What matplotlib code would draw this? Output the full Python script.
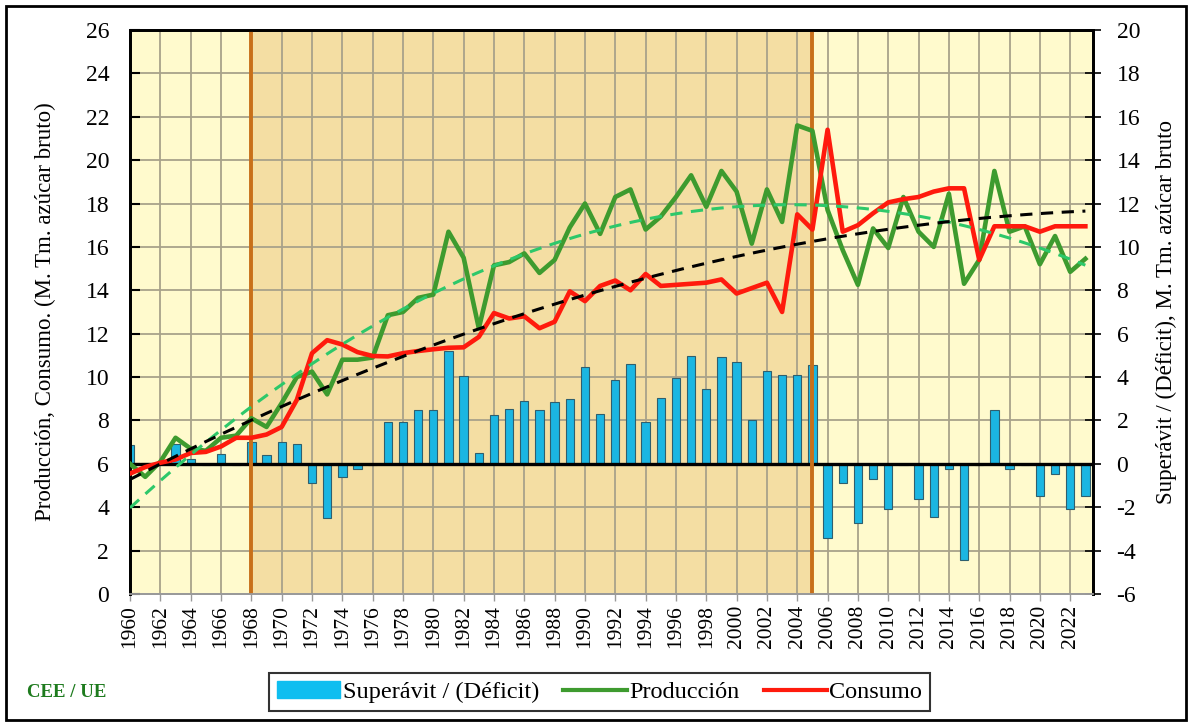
import numpy as np
import matplotlib
matplotlib.use('Agg')
import matplotlib.pyplot as plt
from matplotlib.patches import Rectangle, Patch
from matplotlib.lines import Line2D

plt.rcParams['font.family'] = ['Liberation Serif', 'DejaVu Serif']
plt.rcParams['axes.unicode_minus'] = False

#############################################################################################
# Datos (M. Tm. azucar bruto)

years = list(range(1960, 2024))

produccion = [6.0, 5.4, 6.1, 7.2, 6.7, 6.6, 7.2, 7.3, 8.1, 7.7,
              8.8, 10.0, 10.25, 9.2, 10.8, 10.8, 10.9, 12.85, 13.0, 13.65,
              13.8, 16.7, 15.5, 12.25, 15.15, 15.3, 15.7, 14.8, 15.4, 16.9,
              18.0, 16.6, 18.3, 18.65, 16.8, 17.4, 18.3, 19.3, 17.85, 19.5,
              18.55, 16.15, 18.65, 17.15, 21.6, 21.35, 17.7, 15.85, 14.25, 16.85,
              15.95, 18.3, 16.7, 16.0, 18.45, 14.3, 15.4, 19.5, 16.7, 16.95,
              15.2, 16.5, 14.85, 15.45]

consumo = [5.55, 5.85, 6.05, 6.2, 6.5, 6.55, 6.8, 7.2, 7.2, 7.35,
           7.7, 8.95, 11.1, 11.7, 11.5, 11.15, 10.97, 10.95, 11.1, 11.2,
           11.28, 11.35, 11.37, 11.85, 12.95, 12.7, 12.8, 12.25, 12.55, 13.95,
           13.5, 14.2, 14.45, 14.0, 14.75, 14.2, 14.25, 14.3, 14.35, 14.5,
           13.85, 14.1, 14.35, 13.0, 17.5, 16.8, 21.4, 16.7, 17.0, 17.55,
           18.05, 18.2, 18.3, 18.55, 18.7, 18.7, 15.4, 16.95, 16.95, 16.95,
           16.7, 16.95, 16.95, 16.95]

superavit = [0.85, 0.05, 0.05, 0.9, 0.2, -0.05, 0.45, -0.05, 1.0, 0.4,
             1.0, 0.9, -0.9, -2.5, -0.62, -0.25, -0.05, 1.95, 1.93, 2.48,
             2.48, 5.2, 4.07, 0.49, 2.25, 2.53, 2.9, 2.5, 2.84, 3.0,
             4.45, 2.31, 3.85, 4.6, 1.94, 3.02, 3.94, 4.97, 3.44, 4.94,
             4.68, 2.04, 4.3, 4.1, 4.1, 4.55, -3.43, -0.87, -2.74, -0.7,
             -2.1, -0.05, -1.6, -2.46, -0.25, -4.43, -0.05, 2.48, -0.25, -0.05,
             -1.47, -0.48, -2.1, -1.5]

periodo = (1968, 2005)

#############################################################################################

c_claro = '#FFFACD'
c_oscuro = '#F4DEA3'
c_barra = '#1BB6E2'
c_prod = '#3E9B2F'
c_cons = '#FF1A0D'
c_tend_prod = '#2DC86A'

fig = plt.figure(figsize=(11.92, 7.24), dpi=100)
ax = fig.add_axes([0.1091, 0.1796, 0.8078, 0.779])   # barras, eje derecho
ax2 = ax.twinx()                                     # lineas, eje izquierdo

x = np.array(years, dtype=float)

ax.set_facecolor(c_claro)
ax.axvspan(periodo[0], periodo[1], color=c_oscuro, zorder=0.2, lw=0)
ax.bar(x, superavit, width=0.55, color=c_barra, edgecolor='#2F5F6E', linewidth=0.8, zorder=2)
ax.axhline(0, color='black', lw=2.4, zorder=3)
for p in periodo:
    ax.axvline(p, color='#C8701A', lw=2.8, zorder=4)

ax.set_xlim(1960, 2023.5)
ax.set_ylim(-6, 20)
ax.set_yticks(range(-6, 21, 2))
ax.set_xticks(range(1960, 2023, 2))
ax.set_xticklabels([str(y) for y in range(1960, 2023, 2)], rotation=90, fontsize=15.5)
ax.set_axisbelow(True)
ax.grid(True, color='#A8A28A', lw=1.3)

ax.yaxis.tick_right()
ax.yaxis.set_label_position('right')
ax.set_ylabel('Superávit / (Déficit), M. Tm. azúcar bruto', fontsize=16.5, labelpad=11)

# tendencias polinomicas (orden 2)
cp = np.polyfit(x, produccion, 2)
cc = np.polyfit(x, consumo, 2)
xt = np.linspace(1960, 2023, 200)

ax2.plot(x, produccion, color=c_prod, lw=3.3, zorder=3)
ax2.plot(x, consumo, color=c_cons, lw=3.3, zorder=3)
ax2.plot(xt, np.polyval(cp, xt), color=c_tend_prod, lw=2.2, ls=(0, (4, 2.8)), zorder=4)
ax2.plot(xt, np.polyval(cc, xt), color='black', lw=2.2, ls=(0, (4, 2.8)), zorder=4)
ax2.set_ylim(0, 26)
ax2.set_yticks(range(0, 27, 2))
ax2.yaxis.tick_left()
ax2.yaxis.set_label_position('left')
ax2.set_ylabel('Producción, Consumo. (M. Tm. azúcar bruto)', fontsize=16.5, labelpad=21)

for a in (ax, ax2):
    a.tick_params(axis='y', labelsize=17)
    for s in ('left', 'right', 'top'):
        a.spines[s].set_color('black')
        a.spines[s].set_linewidth(2.0)
    a.spines['bottom'].set_color('#9A9A9A')
    a.spines['bottom'].set_linewidth(1.3)
ax2.tick_params(axis='y', direction='in', length=7, width=1.5, left=True, right=False, pad=15)
ax.tick_params(axis='y', direction='inout', length=12, width=1.2, right=True, left=False, pad=11)
ax.tick_params(axis='x', direction='out', length=5, width=1.0, color='#9A9A9A', pad=3)

# leyenda
handles = [Patch(facecolor='#0FBEF0', edgecolor='#0FBEF0'),
           Line2D([], [], color=c_prod, lw=3),
           Line2D([], [], color=c_cons, lw=3)]
labels = ['Superávit / (Déficit)', 'Producción', 'Consumo']
leg = fig.legend(handles, labels, loc='center', bbox_to_anchor=(0.503, 0.044), ncol=3,
                 fontsize=17.5, frameon=True, fancybox=False, edgecolor='black',
                 handlelength=2.6, handletextpad=0.1, columnspacing=1.0, borderpad=0.32)
leg.get_frame().set_linewidth(1.5)

fig.text(0.0225, 0.044, 'CEE / UE', color='#1E7B1E', fontsize=13.5, fontweight='bold', va='center')

fig.patches.append(Rectangle((0.005, 0.006), 0.99, 0.986, transform=fig.transFigure,
                             fill=False, edgecolor='black', lw=2))

fig.savefig('out.png', dpi=100)
